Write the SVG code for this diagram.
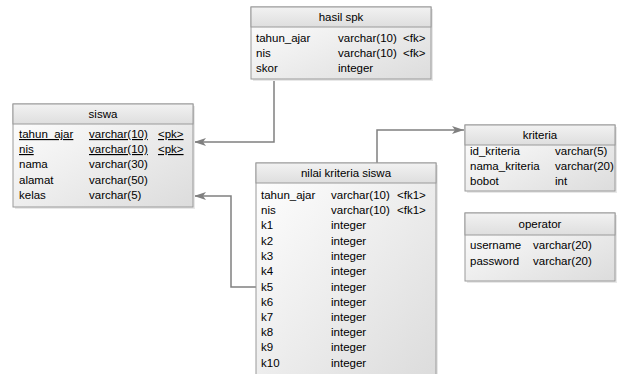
<svg xmlns="http://www.w3.org/2000/svg" width="626" height="374" viewBox="0 0 626 374">
<defs>
<linearGradient id="hg" x1="0" y1="0" x2="0" y2="1"><stop offset="0" stop-color="#f2f2f2"/><stop offset="1" stop-color="#dedede"/></linearGradient>
<linearGradient id="bg" x1="0" y1="0" x2="1" y2="1"><stop offset="0" stop-color="#ffffff"/><stop offset="1" stop-color="#dcdcdc"/></linearGradient>
<marker id="ar" viewBox="0 0 12 8" refX="12" refY="4" markerWidth="12" markerHeight="8" markerUnits="userSpaceOnUse" orient="auto"><path d="M0,0 L12,4 L0,8 L3,4 Z" fill="#808080"/></marker>
</defs>
<style>
text{font-family:"Liberation Sans",Arial,sans-serif;font-size:11.5px;fill:#000}
.t{text-anchor:middle}
.u{text-decoration:underline}
.hd{fill:url(#hg);stroke:#9a9a9a;stroke-width:1}
.bd{fill:url(#bg);stroke:#9a9a9a;stroke-width:1}
.sh{fill:#e8e8e8}
.c{fill:none;stroke:#808080;stroke-width:1.5;marker-end:url(#ar)}
</style>
<rect width="626" height="374" fill="#fff"/>
<g id="connectors">
<polyline class="c" points="274,79 274,142 194,142"/>
<polyline class="c" points="256,287 231,287 231,196 194,196"/>
<polyline class="c" points="377,163 377,130 464,130"/>
</g>
<g id="hasil_spk">
<rect class="sh" x="253" y="9" width="180" height="72"/>
<rect class="bd" x="251" y="7" width="180" height="72"/>
<rect class="hd" x="251" y="7" width="180" height="20"/>
<text class="t" x="341" y="21">hasil spk</text>
<text x="256" y="42">tahun_ajar</text><text x="338" y="42">varchar(10)</text><text x="403" y="42">&lt;fk&gt;</text>
<text x="256" y="57">nis</text><text x="338" y="57">varchar(10)</text><text x="403" y="57">&lt;fk&gt;</text>
<text x="256" y="72">skor</text><text x="338" y="72">integer</text>
</g>
<g id="siswa">
<rect class="sh" x="15" y="106" width="180" height="103"/>
<rect class="bd" x="13" y="104" width="180" height="103"/>
<rect class="hd" x="13" y="104" width="180" height="20"/>
<text class="t" x="103" y="118">siswa</text>
<text class="u" x="19" y="138">tahun_ajar</text><text class="u" x="89" y="138">varchar(10)</text><text class="u" x="158" y="138">&lt;pk&gt;</text>
<text class="u" x="19" y="153">nis</text><text class="u" x="89" y="153">varchar(10)</text><text class="u" x="158" y="153">&lt;pk&gt;</text>
<text x="19" y="168">nama</text><text x="89" y="168">varchar(30)</text>
<text x="19" y="184">alamat</text><text x="89" y="184">varchar(50)</text>
<text x="19" y="199">kelas</text><text x="89" y="199">varchar(5)</text>
</g>
<g id="nilai_kriteria_siswa">
<rect class="sh" x="258" y="165" width="180" height="212"/>
<rect class="bd" x="256" y="163" width="180" height="212"/>
<rect class="hd" x="256" y="163" width="180" height="20"/>
<text class="t" x="346" y="177">nilai kriteria siswa</text>
<text x="261" y="199">tahun_ajar</text><text x="331" y="199">varchar(10)</text><text x="397" y="199">&lt;fk1&gt;</text>
<text x="261" y="214">nis</text><text x="331" y="214">varchar(10)</text><text x="397" y="214">&lt;fk1&gt;</text>
<text x="261" y="229">k1</text><text x="331" y="229">integer</text>
<text x="261" y="245">k2</text><text x="331" y="245">integer</text>
<text x="261" y="260">k3</text><text x="331" y="260">integer</text>
<text x="261" y="275">k4</text><text x="331" y="275">integer</text>
<text x="261" y="291">k5</text><text x="331" y="291">integer</text>
<text x="261" y="306">k6</text><text x="331" y="306">integer</text>
<text x="261" y="321">k7</text><text x="331" y="321">integer</text>
<text x="261" y="336">k8</text><text x="331" y="336">integer</text>
<text x="261" y="351">k9</text><text x="331" y="351">integer</text>
<text x="261" y="367">k10</text><text x="331" y="367">integer</text>
</g>
<g id="kriteria">
<rect class="sh" x="467" y="127" width="150" height="66"/>
<rect class="bd" x="465" y="125" width="150" height="66"/>
<rect class="hd" x="465" y="125" width="150" height="20"/>
<text class="t" x="540" y="139">kriteria</text>
<text x="470" y="155">id_kriteria</text><text x="555" y="155">varchar(5)</text>
<text x="470" y="170">nama_kriteria</text><text x="555" y="170">varchar(20)</text>
<text x="470" y="185">bobot</text><text x="555" y="185">int</text>
</g>
<g id="operator">
<rect class="sh" x="467" y="215" width="150" height="68"/>
<rect class="bd" x="465" y="213" width="150" height="68"/>
<rect class="hd" x="465" y="213" width="150" height="22"/>
<text class="t" x="540" y="228">operator</text>
<text x="470" y="249">username</text><text x="533" y="249">varchar(20)</text>
<text x="470" y="265">password</text><text x="533" y="265">varchar(20)</text>
</g>
</svg>
